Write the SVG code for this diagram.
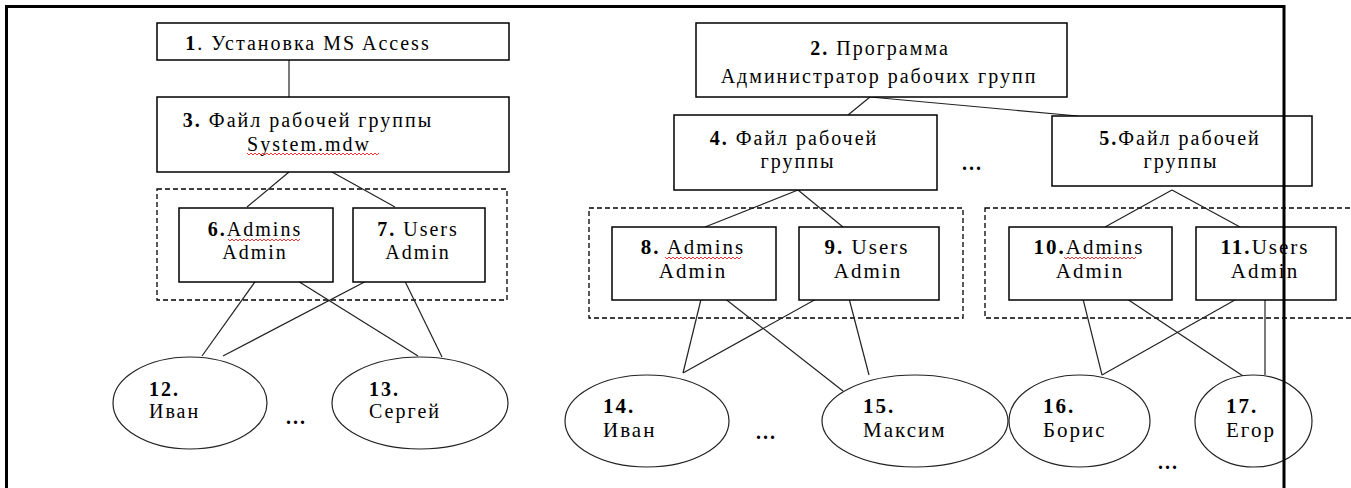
<svg xmlns="http://www.w3.org/2000/svg" width="1351" height="488" viewBox="0 0 1351 488">
<style>
.box{fill:#fff;stroke:#000;stroke-width:1.5}
.dash{fill:none;stroke:#000;stroke-width:1.3;stroke-dasharray:5 3}
.ell{fill:#fff;stroke:#222;stroke-width:1.2}
.t{font-family:"Liberation Serif","Times New Roman",serif;font-size:20px;letter-spacing:2px;fill:#000}
.r{font-size:21px}
.c{text-anchor:middle}
.b{font-weight:bold}
.sq{fill:none;stroke:#e00;stroke-width:0.8}
#connectors line{stroke:#222;stroke-width:1.2}
.frame{fill:none;stroke:#000;stroke-width:3}
</style>
<rect width="1351" height="488" fill="#fff"/>

<g id="groups">
<rect class="dash" x="157" y="189" width="350" height="111"/>
<rect class="dash" x="589" y="208" width="374" height="110"/>
<rect class="dash" x="985" y="208" width="380" height="110"/>
</g>

<g id="connectors">
<line x1="289" y1="60" x2="289" y2="97"/>
<line x1="289" y1="172" x2="247" y2="207"/>
<line x1="332" y1="172" x2="395" y2="207"/>
<line x1="267" y1="265" x2="202" y2="356"/>
<line x1="269" y1="263" x2="418" y2="356"/>
<line x1="397" y1="265" x2="223" y2="356"/>
<line x1="397" y1="265" x2="442" y2="357"/>
<line x1="870" y1="97" x2="848" y2="115"/>
<line x1="870" y1="97" x2="1078" y2="116"/>
<line x1="798" y1="190" x2="705" y2="227"/>
<line x1="798" y1="190" x2="843" y2="227"/>
<line x1="705" y1="283" x2="683" y2="373"/>
<line x1="705" y1="283" x2="843" y2="391"/>
<line x1="845" y1="283" x2="683" y2="373"/>
<line x1="845" y1="283" x2="869" y2="375"/>
<line x1="1172" y1="190" x2="1105" y2="227"/>
<line x1="1172" y1="190" x2="1240" y2="227"/>
<line x1="1079" y1="283" x2="1102" y2="375"/>
<line x1="1103" y1="283" x2="1243" y2="376"/>
<line x1="1265" y1="283" x2="1102" y2="375"/>
<line x1="1265" y1="283" x2="1265" y2="375"/>
</g>

<g id="n1">
<rect class="box" x="157" y="23" width="352" height="37"/>
<text class="t c" x="308" y="50"><tspan class="b">1</tspan>. Установка MS Access</text>
</g>
<g id="n3">
<rect class="box" x="157" y="97" width="352" height="75"/>
<text class="t c" x="308" y="127"><tspan class="b">3.</tspan> Файл рабочей группы</text>
<text class="t c" x="309" y="151">System.mdw</text>
<path class="sq" d="M247 153 l2 2 2 -2 2 2 2 -2 2 2 2 -2 2 2 2 -2 2 2 2 -2 2 2 2 -2 2 2 2 -2 2 2 2 -2 2 2 2 -2 2 2 2 -2 2 2 2 -2 2 2 2 -2 2 2 2 -2 2 2 2 -2 2 2 2 -2 2 2 2 -2 2 2 2 -2 2 2 2 -2 2 2 2 -2 2 2 2 -2 2 2 2 -2 2 2 2 -2 2 2 2 -2 2 2 2 -2 2 2 2 -2 2 2 2 -2 2 2 2 -2 2 2 2 -2 2 2 2 -2 2 2 2 -2 2 2 2 -2 2 2 2 -2 2 2 2 -2"/>
</g>
<g id="n2">
<rect class="box" x="696" y="23" width="371" height="74"/>
<text class="t c" x="880" y="55"><tspan class="b">2.</tspan> Программа</text>
<text class="t c" x="879" y="83">Администратор рабочих групп</text>
</g>
<g id="n4">
<rect class="box" x="674" y="115" width="263" height="75"/>
<text class="t c" x="794" y="145"><tspan class="b">4.</tspan> Файл рабочей</text>
<text class="t c" x="798" y="168">группы</text>
</g>
<text class="t b" x="962" y="170">...</text>
<g id="n5">
<rect class="box" x="1052" y="116" width="260" height="70"/>
<text class="t c" x="1180" y="145"><tspan class="b">5.</tspan>Файл рабочей</text>
<text class="t c" x="1181" y="168">группы</text>
</g>

<g id="n6">
<rect class="box" x="179" y="208" width="154" height="74"/>
<text class="t c" x="255" y="236"><tspan class="b">6.</tspan>Admins</text>
<text class="t c" x="255" y="259">Admin</text>
<path class="sq" d="M228 239 l2 2 2 -2 2 2 2 -2 2 2 2 -2 2 2 2 -2 2 2 2 -2 2 2 2 -2 2 2 2 -2 2 2 2 -2 2 2 2 -2 2 2 2 -2 2 2 2 -2 2 2 2 -2 2 2 2 -2 2 2 2 -2 2 2 2 -2 2 2 2 -2 2 2 2 -2 2 2 2 -2"/>
</g>
<g id="n7">
<rect class="box" x="353" y="208" width="132" height="74"/>
<text class="t c" x="418" y="236"><tspan class="b">7.</tspan> Users</text>
<text class="t c" x="418" y="259">Admin</text>
</g>
<g id="n8">
<rect class="box" x="612" y="227" width="164" height="73"/>
<text class="t r c" x="693" y="254"><tspan class="b">8.</tspan> Admins</text>
<text class="t r c" x="693" y="278">Admin</text>
<path class="sq" d="M665 257 l2 2 2 -2 2 2 2 -2 2 2 2 -2 2 2 2 -2 2 2 2 -2 2 2 2 -2 2 2 2 -2 2 2 2 -2 2 2 2 -2 2 2 2 -2 2 2 2 -2 2 2 2 -2 2 2 2 -2 2 2 2 -2 2 2 2 -2 2 2 2 -2 2 2 2 -2 2 2 2 -2 2 2 2 -2"/>
</g>
<g id="n9">
<rect class="box" x="799" y="227" width="140" height="73"/>
<text class="t r c" x="867" y="254"><tspan class="b">9.</tspan> Users</text>
<text class="t r c" x="868" y="278">Admin</text>
</g>
<g id="n10">
<rect class="box" x="1009" y="227" width="163" height="73"/>
<text class="t r c" x="1089" y="254"><tspan class="b">10.</tspan>Admins</text>
<text class="t r c" x="1090" y="278">Admin</text>
<path class="sq" d="M1064 257 l2 2 2 -2 2 2 2 -2 2 2 2 -2 2 2 2 -2 2 2 2 -2 2 2 2 -2 2 2 2 -2 2 2 2 -2 2 2 2 -2 2 2 2 -2 2 2 2 -2 2 2 2 -2 2 2 2 -2 2 2 2 -2 2 2 2 -2 2 2 2 -2 2 2 2 -2 2 2 2 -2"/>
</g>
<g id="n11">
<rect class="box" x="1196" y="227" width="140" height="73"/>
<text class="t r c" x="1265" y="254"><tspan class="b">11.</tspan>Users</text>
<text class="t r c" x="1265" y="278">Admin</text>
</g>

<g id="n12">
<ellipse class="ell" cx="190" cy="403" rx="77" ry="46"/>
<text class="t b" x="149" y="396">12.</text>
<text class="t" x="149" y="418">Иван</text>
</g>
<text class="t b" x="286" y="424">...</text>
<g id="n13">
<ellipse class="ell" cx="420" cy="403" rx="88" ry="46"/>
<text class="t b" x="369" y="396">13.</text>
<text class="t" x="369" y="418">Сергей</text>
</g>
<g id="n14">
<ellipse class="ell" cx="647" cy="421" rx="82" ry="46"/>
<text class="t r b" x="603" y="413">14.</text>
<text class="t r" x="603" y="437">Иван</text>
</g>
<text class="t b" x="756" y="439">...</text>
<g id="n15">
<ellipse class="ell" cx="915" cy="421" rx="93" ry="46"/>
<text class="t r b" x="863" y="413">15.</text>
<text class="t r" x="863" y="437">Максим</text>
</g>
<g id="n16">
<ellipse class="ell" cx="1079.5" cy="421" rx="70.5" ry="46"/>
<text class="t r b" x="1043" y="413">16.</text>
<text class="t r" x="1043" y="437">Борис</text>
</g>
<g id="n17">
<ellipse class="ell" cx="1253.5" cy="421" rx="58.5" ry="46"/>
<text class="t r b" x="1226" y="413">17.</text>
<text class="t r" x="1226" y="437">Егор</text>
</g>
<text class="t b" x="1158" y="469">...</text>

<path class="frame" d="M6.5 488 V6.5 H1284 V488"/>
</svg>
